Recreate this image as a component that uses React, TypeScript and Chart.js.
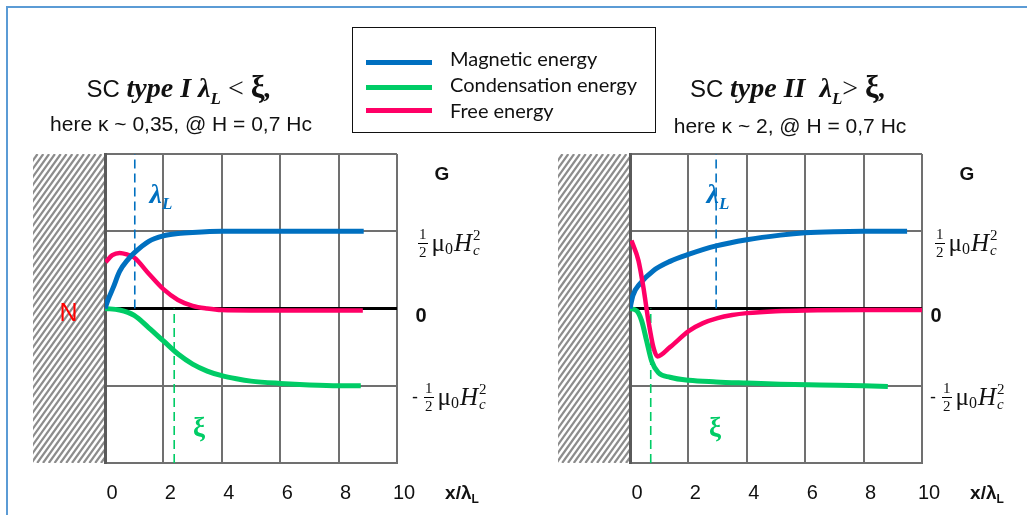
import React, { useEffect, useRef } from "react";
import { Chart, registerables } from "chart.js";
Chart.register(...registerables);

// ---------- data ----------
const xTickValues = [0, 2, 4, 6, 8, 10];
const yGridValues = [-2, -1, 0, 1, 2];

// Type I (left panel), x in units of x/lambda_L, y in units of 1/2 mu0 Hc^2
const t1MagX = [0, 0.1, 0.28, 0.5, 0.8, 1.0, 1.5, 2.0, 2.5, 3.0, 4.0, 6.0, 8.86];
const t1MagY = [0, 0.11, 0.27, 0.48, 0.64, 0.72, 0.87, 0.94, 0.97, 0.985, 1.0, 1.0, 1.0];
const t1FreeX = [0.02, 0.25, 0.5, 0.75, 1.0, 1.5, 2.0, 2.5, 3.0, 3.5, 4.0, 5.0, 8.83];
const t1FreeY = [0.6, 0.69, 0.72, 0.7, 0.66, 0.45, 0.25, 0.11, 0.035, 0.0, -0.02, -0.025, -0.025];
const t1CondX = [0, 0.5, 1.0, 1.5, 2.0, 2.5, 3.0, 3.5, 4.0, 4.5, 5.0, 6.0, 7.0, 8.0, 8.76];
const t1CondY = [0, -0.02, -0.09, -0.25, -0.42, -0.59, -0.72, -0.81, -0.87, -0.91, -0.94, -0.97, -0.99, -1.0, -1.0];
const t1LambdaX = [1.02, 1.02];
const t1LambdaY = [0, 2];
const t1XiX = [2.37, 2.37];
const t1XiY = [-2, 0];

// Type II (right panel)
const t2MagX = [0, 0.1, 0.34, 0.8, 1.37, 2.0, 2.95, 4.0, 5.15, 6.0, 7.0, 8.0, 9.49];
const t2MagY = [0, 0.17, 0.32, 0.49, 0.61, 0.7, 0.81, 0.89, 0.95, 0.98, 0.995, 1.0, 1.0];
const t2FreeX = [0.05, 0.29, 0.46, 0.63, 0.8, 0.94, 1.37, 2.02, 2.5, 3.0, 3.5, 4.0, 5.0, 6.0, 8.0, 10];
const t2FreeY = [0.88, 0.62, 0.27, -0.16, -0.5, -0.62, -0.5, -0.29, -0.19, -0.125, -0.085, -0.06, -0.035, -0.025, -0.02, -0.02];
const t2CondX = [0, 0.23, 0.4, 0.57, 0.74, 0.97, 1.37, 2.02, 2.95, 4.0, 5.15, 6.5, 8.0, 8.83];
const t2CondY = [0, -0.03, -0.16, -0.42, -0.68, -0.83, -0.89, -0.93, -0.95, -0.965, -0.98, -0.99, -1.0, -1.01];
const t2LambdaX = [2.95, 2.95];
const t2LambdaY = [0, 2];
const t2XiX = [0.71, 0.71];
const t2XiY = [-2, 0];

const legendLabels = ["Magnetic energy", "Condensation energy", "Free energy"];

const BLUE = "#0070C0";
const GREEN = "#00CC66";
const PINK = "#FF0066";

const pts = (xs: number[], ys: number[]) => xs.map((x, i) => ({ x, y: ys[i] }));

const wallPlugin = {
  id: "wall",
  beforeDraw(chart: any, _args: any, opts: any) {
    const { ctx, chartArea } = chart;
    const w = opts.width || 72;
    const x0 = chartArea.left - w;
    const y0 = chartArea.top;
    const h = chartArea.bottom - chartArea.top;
    ctx.save();
    ctx.beginPath();
    ctx.rect(x0, y0, w, h);
    ctx.clip();
    ctx.strokeStyle = "#8c8c8c";
    ctx.lineWidth = 2.2;
    const k = 1.4;
    for (let x = x0 - h; x < x0 + w + h; x += 5.8) {
      ctx.beginPath();
      ctx.moveTo(x, y0 + h);
      ctx.lineTo(x + h / k, y0);
      ctx.stroke();
    }
    ctx.restore();
  },
};

function curve(label: string, data: any[], color: string, width: number) {
  return {
    label,
    data,
    borderColor: color,
    backgroundColor: color,
    borderWidth: width,
    pointRadius: 0,
    fill: false,
    cubicInterpolationMode: "monotone",
    borderCapStyle: "butt",
  };
}
function marker(data: any[], color: string) {
  return {
    label: "",
    data,
    borderColor: color,
    borderWidth: 1.6,
    borderDash: [9, 5],
    pointRadius: 0,
    fill: false,
    tension: 0,
  };
}

function makeConfig(datasets: any[], padLeft: number, padRight: number) {
  return {
    type: "line",
    data: { datasets },
    plugins: [wallPlugin],
    options: {
      animation: false,
      responsive: false,
      maintainAspectRatio: false,
      devicePixelRatio: 1,
      layout: { padding: { left: padLeft, right: padRight, top: 154, bottom: 7 } },
      plugins: {
        legend: { display: false },
        tooltip: { enabled: false },
        wall: { width: 72 },
      },
      scales: {
        x: {
          type: "linear",
          position: "bottom",
          min: 0,
          max: 10,
          afterBuildTicks: (s: any) => {
            s.ticks = xTickValues.map((v) => ({ value: v }));
          },
          afterFit: (s: any) => {
            s.height = 45;
          },
          grid: { color: "#707070", lineWidth: 2, drawTicks: false },
          border: { display: true, color: "#707070", width: 2 },
          ticks: {
            padding: 18,
            labelOffset: 7,
            color: "#111",
            font: { family: "'Liberation Sans', Arial, sans-serif", size: 20 },
            callback: (v: any) => String(v),
          },
        },
        y: {
          type: "linear",
          position: "left",
          min: -2,
          max: 2,
          afterBuildTicks: (s: any) => {
            s.ticks = yGridValues.map((v) => ({ value: v }));
          },
          afterFit: (s: any) => {
            s.width = 0;
          },
          grid: {
            drawTicks: false,
            color: (c: any) => (c.tick && c.tick.value === 0 ? "#000" : "#707070"),
            lineWidth: (c: any) => (c.tick && c.tick.value === 0 ? 3 : 2),
          },
          border: { display: true, color: "#5a5a5a", width: 3 },
          ticks: { display: false },
        },
      },
    },
  };
}

const serif = "'Liberation Serif', 'Times New Roman', serif";
const sans = "'Liberation Sans', Arial, sans-serif";

const Frac = ({ size }: { size: number }) => (
  <span
    style={{
      display: "inline-flex",
      flexDirection: "column",
      alignItems: "center",
      fontSize: size,
      lineHeight: 1.1,
      margin: "0 4px 0 1px",
    }}
  >
    <span style={{ padding: "0 1px" }}>1</span>
    <span style={{ borderTop: "1.3px solid #000", padding: "0 1px" }}>2</span>
  </span>
);

const HalfMuH = ({ x, y, neg }: { x: number; y: number; neg?: boolean }) => (
  <div
    style={{
      position: "absolute",
      left: x,
      top: y,
      transform: "translateY(-50%)",
      display: "flex",
      alignItems: "center",
      fontFamily: serif,
      fontSize: 25,
      color: "#111",
      whiteSpace: "nowrap",
    }}
  >
    {neg && <span style={{ fontFamily: sans, fontSize: 18, marginRight: 5 }}>-</span>}
    <Frac size={15} />
    <span>μ</span>
    <span style={{ fontSize: 16, alignSelf: "flex-end", marginBottom: 2 }}>0</span>
    <span style={{ fontStyle: "italic", marginLeft: 1 }}>H</span>
    <span
      style={{
        display: "inline-flex",
        flexDirection: "column",
        fontSize: 15,
        lineHeight: 1,
        marginLeft: 1,
      }}
    >
      <span>2</span>
      <span style={{ fontStyle: "italic" }}>c</span>
    </span>
  </div>
);

const Centered = ({ x, y, style, children }: any) => (
  <div
    style={{
      position: "absolute",
      left: x,
      top: y,
      transform: "translate(-50%, -50%)",
      whiteSpace: "nowrap",
      ...style,
    }}
  >
    {children}
  </div>
);

const mathBI = { fontFamily: serif, fontWeight: 700, fontStyle: "italic" as const };

export default function App() {
  const leftRef = useRef<HTMLCanvasElement>(null);
  const rightRef = useRef<HTMLCanvasElement>(null);

  useEffect(() => {
    const left = new Chart(
      leftRef.current as HTMLCanvasElement,
      makeConfig(
        [
          curve(legendLabels[0], pts(t1MagX, t1MagY), BLUE, 5),
          curve(legendLabels[2], pts(t1FreeX, t1FreeY), PINK, 4.5),
          curve(legendLabels[1], pts(t1CondX, t1CondY), GREEN, 5),
          marker(pts(t1LambdaX, t1LambdaY), BLUE),
          marker(pts(t1XiX, t1XiY), GREEN),
        ],
        105,
        1027 - 397
      ) as any
    );
    const right = new Chart(
      rightRef.current as HTMLCanvasElement,
      makeConfig(
        [
          curve(legendLabels[2], pts(t2FreeX, t2FreeY), PINK, 4.5),
          curve(legendLabels[0], pts(t2MagX, t2MagY), BLUE, 5),
          curve(legendLabels[1], pts(t2CondX, t2CondY), GREEN, 5),
          marker(pts(t2LambdaX, t2LambdaY), BLUE),
          marker(pts(t2XiX, t2XiY), GREEN),
        ],
        630,
        1027 - 922
      ) as any
    );
    return () => {
      left.destroy();
      right.destroy();
    };
  }, []);

  const legendColors = [BLUE, GREEN, PINK];
  const legendBase = [65, 90.7, 116.7];
  const legendLineY = [62, 87, 110.5];

  return (
    <div
      style={{
        position: "fixed",
        left: 0,
        top: 0,
        width: 1027,
        height: 515,
        background: "#fff",
        overflow: "hidden",
      }}
    >
      <div
        style={{
          position: "absolute",
          left: 6,
          top: 6,
          width: 1200,
          height: 700,
          borderTop: "2px solid #5B9BD5",
          borderLeft: "2px solid #5B9BD5",
        }}
      />
      <canvas
        ref={leftRef}
        width={1027}
        height={515}
        style={{ position: "absolute", left: 0, top: 0, width: 1027, height: 515 }}
      />
      <canvas
        ref={rightRef}
        width={1027}
        height={515}
        style={{ position: "absolute", left: 0, top: 0, width: 1027, height: 515 }}
      />

      {/* legend */}
      <div
        style={{
          position: "absolute",
          left: 352,
          top: 27,
          width: 302,
          height: 104,
          border: "1px solid #111",
        }}
      />
      {legendLabels.map((l, i) => (
        <React.Fragment key={l}>
          <div
            style={{
              position: "absolute",
              left: 366,
              top: legendLineY[i] - 2.5,
              width: 66,
              height: 5,
              background: legendColors[i],
            }}
          />
          <div
            style={{
              position: "absolute",
              left: 450,
              top: legendBase[i] - 17,
              fontFamily: "Lato, 'Open Sans', sans-serif",
              fontSize: 20,
              lineHeight: "21px",
              color: "#111",
              whiteSpace: "nowrap",
            }}
          >
            {l}
          </div>
        </React.Fragment>
      ))}

      {/* titles */}
      <Centered x={179} y={89} style={{ fontSize: 28, color: "#111" }}>
        <span style={{ fontFamily: sans, fontSize: 24 }}>SC </span>
        <span style={mathBI}>type I λ</span>
        <sub style={{ ...mathBI, fontSize: 17 }}>L</sub>
        <span style={{ fontFamily: serif }}> &lt; </span>
        <span style={{ fontFamily: serif, fontWeight: 700, fontSize: 31 }}>ξ</span>
        <span style={mathBI}>,</span>
      </Centered>
      <Centered x={181} y={124} style={{ fontFamily: sans, fontSize: 21, color: "#111" }}>
        here κ ~ 0,35, @ H = 0,7 Hc
      </Centered>
      <Centered x={788} y={89} style={{ fontSize: 28, color: "#111" }}>
        <span style={{ fontFamily: sans, fontSize: 24 }}>SC </span>
        <span style={mathBI}>type II&nbsp; λ</span>
        <sub style={{ ...mathBI, fontSize: 17 }}>L</sub>
        <span style={{ fontFamily: serif }}>&gt; </span>
        <span style={{ fontFamily: serif, fontWeight: 700, fontSize: 31 }}>ξ</span>
        <span style={mathBI}>,</span>
      </Centered>
      <Centered x={790} y={126} style={{ fontFamily: sans, fontSize: 21, color: "#111" }}>
        here κ ~ 2, @ H = 0,7 Hc
      </Centered>

      {/* axis side labels */}
      {[442, 967].map((x) => (
        <Centered key={"G" + x} x={x} y={174} style={{ fontFamily: sans, fontWeight: 700, fontSize: 19, color: "#111" }}>
          G
        </Centered>
      ))}
      {[421, 936].map((x) => (
        <Centered key={"Z" + x} x={x} y={315} style={{ fontFamily: sans, fontWeight: 700, fontSize: 20, color: "#111" }}>
          0
        </Centered>
      ))}
      <HalfMuH x={417} y={243} />
      <HalfMuH x={934} y={243} />
      <HalfMuH x={412} y={397} neg />
      <HalfMuH x={930} y={397} neg />
      {[462, 987].map((x) => (
        <Centered key={"X" + x} x={x} y={494} style={{ fontFamily: sans, fontWeight: 700, fontSize: 19, color: "#111" }}>
          x/λ<sub style={{ fontSize: 12 }}>L</sub>
        </Centered>
      ))}

      {/* annotations */}
      <Centered x={68.5} y={311.5} style={{ fontFamily: sans, fontSize: 25, color: "#FF0000" }}>
        N
      </Centered>
      {[161, 718].map((x) => (
        <Centered key={"L" + x} x={x} y={196} style={{ ...mathBI, fontSize: 28, color: BLUE }}>
          λ<sub style={{ fontSize: 17 }}>L</sub>
        </Centered>
      ))}
      {[199, 715].map((x) => (
        <Centered key={"XI" + x} x={x} y={427} style={{ fontFamily: serif, fontWeight: 700, fontSize: 27, color: GREEN }}>
          ξ
        </Centered>
      ))}
    </div>
  );
}
